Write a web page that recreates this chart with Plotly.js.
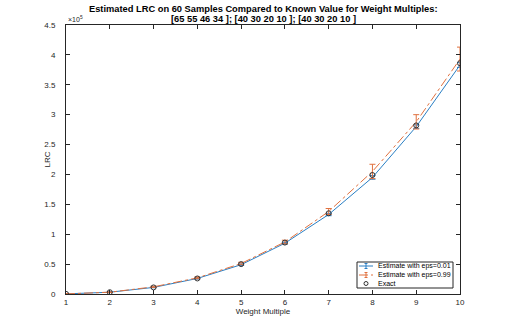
<!DOCTYPE html>
<html>
<head>
<meta charset="utf-8">
<script src="https://cdn.plot.ly/plotly-3.0.1.min.js"></script>
<style>
  html, body { margin: 0; padding: 0; background: #fff; }
  #chart { width: 509px; height: 331px; }
</style>
</head>
<body>
<div id="chart"></div>
<script>
// Weight multiples on the x axis
const multiples = [1, 2, 3, 4, 5, 6, 7, 8, 9, 10];

// LRC values (x 10^5)
const exactLRC = [0.002, 0.03, 0.11, 0.26, 0.50, 0.86, 1.35, 1.99, 2.82, 3.86];
const estLow = [0.002, 0.03, 0.11, 0.26, 0.49, 0.85, 1.33, 1.95, 2.80, 3.83];
const estLowErr = [0.001, 0.003, 0.006, 0.01, 0.012, 0.015, 0.02, 0.03, 0.03, 0.04];
const estHigh = [0.002, 0.03, 0.12, 0.27, 0.51, 0.87, 1.38, 2.05, 2.88, 3.93];
const estHighErr = [0.001, 0.005, 0.01, 0.015, 0.02, 0.03, 0.05, 0.12, 0.12, 0.2];

const yTicks = [0, 0.5, 1, 1.5, 2, 2.5, 3, 3.5, 4, 4.5];
const legendNames = ['Estimate with eps=0.01', 'Estimate with eps=0.99', 'Exact'];

const blue = '#2a7fc4';
const orange = '#e0713f';
const fam = 'Liberation Sans';
const scale = v => v.map(d => d * 1e5);

const data = [
    {
        x: multiples,
        y: scale(estLow),
        error_y: { type: 'data', array: scale(estLowErr), color: blue, thickness: 1, width: 3 },
        mode: 'lines',
        line: { color: blue, width: 1 }
    },
    {
        x: multiples,
        y: scale(estHigh),
        error_y: { type: 'data', array: scale(estHighErr), color: orange, thickness: 1, width: 3 },
        mode: 'lines',
        line: { color: orange, width: 1, dash: 'dashdot' }
    },
    {
        x: multiples,
        y: scale(exactLRC),
        mode: 'markers',
        marker: { symbol: 'circle-open', size: 5, color: '#333', line: { width: 1 } }
    }
];

// plot area in pixels, used to place the hand-made legend
const plot = { l: 66, r: 460, t: 25, b: 294 };
const px = x => (x - plot.l) / (plot.r - plot.l);
const py = y => (plot.b - y) / (plot.b - plot.t);

const seg = (x0, x1, y0, y1, color, dash) => ({
    type: 'line', xref: 'paper', yref: 'paper',
    x0: px(x0), x1: px(x1), y0: py(y0), y1: py(y1),
    line: { color: color, width: 1, dash: dash || 'solid' }, layer: 'above'
});

const errIcon = (cx, cy, color) => [
    seg(cx, cx, cy - 2.5, cy + 2.5, color),
    seg(cx - 1.5, cx + 1.5, cy - 2.5, cy - 2.5, color),
    seg(cx - 1.5, cx + 1.5, cy + 2.5, cy + 2.5, color)
];

const legendRows = [266, 275, 283.5];

const shapes = [
    { type: 'rect', xref: 'paper', yref: 'paper', x0: px(357), x1: px(453), y0: py(288), y1: py(262),
      line: { color: '#262626', width: 1 }, fillcolor: '#fff', layer: 'above' },
    seg(359, 373, legendRows[0], legendRows[0], blue),
    ...errIcon(366, legendRows[0], blue),
    seg(359, 373, legendRows[1], legendRows[1], orange, 'dashdot'),
    ...errIcon(366, legendRows[1], orange),
    { type: 'circle', xref: 'paper', yref: 'paper',
      x0: px(364), x1: px(368), y0: py(legendRows[2] - 2), y1: py(legendRows[2] + 2),
      line: { color: '#333', width: 1 }, layer: 'above' }
];

const annotations = legendNames.map((name, i) => ({
    text: name,
    xref: 'paper', yref: 'paper',
    x: px(376), y: py(legendRows[i]),
    xanchor: 'left', yanchor: 'middle',
    showarrow: false,
    font: { family: fam, size: 7, color: '#000' }
}));

annotations.push(
    {
        text: '\u00d710<sup>5</sup>',
        xref: 'paper', yref: 'paper',
        x: 0, y: 1,
        xanchor: 'left', yanchor: 'bottom',
        showarrow: false,
        font: { family: fam, size: 7, color: '#262626' }
    },
    {
        text: '<b>Estimated LRC on 60 Samples Compared to Known Value for Weight Multiples:</b>',
        xref: 'paper', yref: 'paper',
        x: 0.5, y: py(9),
        xanchor: 'center', yanchor: 'middle',
        showarrow: false,
        font: { family: fam, size: 9.3, color: '#000' }
    },
    {
        text: '<b>[65 55 46 34 ]; [40 30 20 10 ]; [40 30 20 10 ]</b>',
        xref: 'paper', yref: 'paper',
        x: 0.5, y: py(19),
        xanchor: 'center', yanchor: 'middle',
        showarrow: false,
        font: { family: fam, size: 9.3, color: '#000' }
    },
    {
        text: 'LRC',
        xref: 'paper', yref: 'paper',
        x: px(47), y: 0.5,
        xanchor: 'center', yanchor: 'middle',
        textangle: -90,
        showarrow: false,
        font: { family: fam, size: 8, color: '#262626' }
    }
);

const axisStyle = {
    showline: true,
    linecolor: '#262626',
    linewidth: 1,
    mirror: 'ticks',
    ticks: 'inside',
    ticklen: 4,
    tickcolor: '#262626',
    showgrid: false,
    zeroline: false,
    tickfont: { family: fam, size: 8, color: '#262626' }
};

const layout = {
    width: 509,
    height: 331,
    margin: { l: 66, r: 49, t: 25, b: 37 },
    paper_bgcolor: '#fff',
    plot_bgcolor: '#fff',
    showlegend: false,
    xaxis: Object.assign({}, axisStyle, {
        range: [1, 10],
        tickvals: multiples,
        title: { text: 'Weight Multiple', font: { family: fam, size: 8, color: '#262626' }, standoff: 2 }
    }),
    yaxis: Object.assign({}, axisStyle, {
        range: [0, 4.5e5],
        tickvals: scale(yTicks),
        ticktext: yTicks.map(String),
        ticklabelstandoff: 8
    }),
    shapes: shapes,
    annotations: annotations
};

Plotly.newPlot('chart', data, layout, { displayModeBar: false });
</script>
</body>
</html>
